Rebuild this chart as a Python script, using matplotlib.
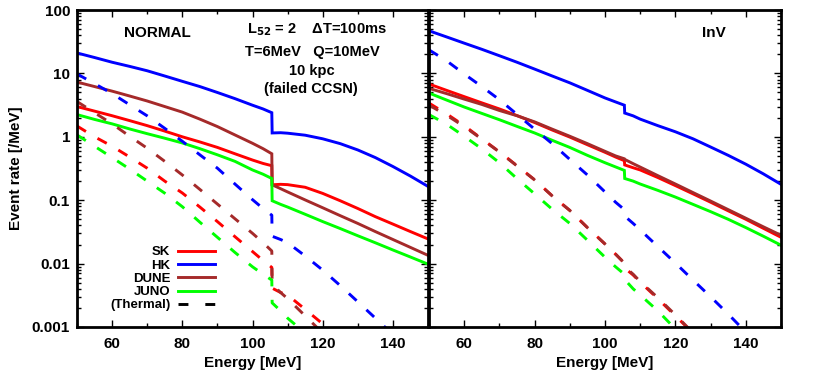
import numpy as np
import matplotlib
matplotlib.use('Agg')
import matplotlib.pyplot as plt
from matplotlib.lines import Line2D
from matplotlib.ticker import LogLocator, MultipleLocator, NullFormatter

plt.rcParams['font.family'] = ['Liberation Sans', 'DejaVu Sans']
plt.rcParams['font.weight'] = 'bold'

# energy grid, split at the jump near 105.6 MeV
E_lo = [50, 55, 60, 65, 70, 75, 80, 85, 90, 95, 100, 103, 105.5]
E_hi = [105.6, 108, 110, 115, 120, 125, 130, 135, 140, 145, 150]

# NORMAL, event rate [/MeV]
sk_n = [3.0, 2.54, 2.15, 1.8, 1.5, 1.23, 1.0, 0.83, 0.68, 0.54, 0.43, 0.38, 0.35] + \
       [0.175, 0.178, 0.176, 0.16, 0.128, 0.098, 0.074, 0.055, 0.042, 0.032, 0.0245]
hk_n = [21, 17.8, 15, 12.9, 11, 9.1, 7.5, 6.2, 5.0, 4.0, 3.15, 2.75, 2.4] + \
       [1.15, 1.16, 1.14, 1.06, 0.93, 0.78, 0.62, 0.47, 0.34, 0.24, 0.165]
dune_n = [7.3, 6.2, 5.25, 4.4, 3.67, 3.0, 2.45, 1.9, 1.45, 1.07, 0.79, 0.65, 0.54] + \
         [0.175, 0.152, 0.135, 0.101, 0.076, 0.057, 0.043, 0.032, 0.024, 0.018, 0.0135]
juno_n = [2.24, 1.88, 1.6, 1.33, 1.12, 0.95, 0.8, 0.65, 0.52, 0.41, 0.3, 0.257, 0.22] + \
         [0.098, 0.086, 0.078, 0.06, 0.046, 0.0357, 0.0275, 0.0213, 0.0164, 0.0127, 0.0098]
# NORMAL, thermal
sk_n_th = [1.48, 1.0, 0.71, 0.48, 0.32, 0.2, 0.13, 0.078, 0.046, 0.0266, 0.0155, 0.0112, 0.0087] + \
          [0.0041, 0.0035, 0.0032, 0.0019, 0.00112, 0.00063, 0.00035, 0.0002, 0.00011, 0.00006, 0.00003]
hk_n_th = [9.8, 6.9, 4.8, 3.2, 2.14, 1.36, 0.85, 0.52, 0.32, 0.18, 0.102, 0.074, 0.058] + \
          [0.027, 0.024, 0.0214, 0.0132, 0.0079, 0.0045, 0.0025, 0.00138, 0.00076, 0.0004, 0.0002]
dune_n_th = [3.6, 2.4, 1.6, 1.02, 0.66, 0.41, 0.25, 0.148, 0.087, 0.051, 0.030, 0.0214, 0.0158] + \
            [0.0047, 0.0035, 0.0028, 0.0015, 0.0008, 0.00042, 0.00022, 0.00012, 0.00006, 0.00003, 0.000015]
juno_n_th = [1.07, 0.71, 0.47, 0.31, 0.2, 0.129, 0.079, 0.045, 0.026, 0.015, 0.0089, 0.0068, 0.0055] + \
            [0.0024, 0.0018, 0.00138, 0.0008, 0.00045, 0.00025, 0.00013, 0.00007, 0.00004, 0.00002, 0.00001]

# InV
sk_i = [6.8, 5.4, 4.3, 3.43, 2.75, 2.16, 1.68, 1.28, 0.99, 0.75, 0.57, 0.48, 0.42] + \
       [0.36, 0.325, 0.3, 0.228, 0.17, 0.126, 0.093, 0.068, 0.05, 0.036, 0.026]
hk_i = [47, 37.6, 30, 24, 19, 15, 11.7, 9.1, 7.1, 5.4, 4.1, 3.55, 3.15] + \
       [2.37, 2.14, 1.9, 1.5, 1.2, 0.93, 0.69, 0.51, 0.37, 0.26, 0.178]
dune_i = [5.8, 4.8, 3.93, 3.24, 2.6, 2.15, 1.72, 1.32, 1.02, 0.78, 0.59, 0.5, 0.45] + \
         [0.44, 0.377, 0.333, 0.244, 0.18, 0.132, 0.097, 0.071, 0.052, 0.038, 0.028]
juno_i = [4.9, 3.8, 2.95, 2.34, 1.86, 1.46, 1.15, 0.88, 0.68, 0.51, 0.39, 0.335, 0.295] + \
         [0.22, 0.2, 0.18, 0.143, 0.112, 0.086, 0.066, 0.05, 0.037, 0.027, 0.0195]
# InV, thermal
sk_i_th = [3.4, 2.3, 1.5, 0.93, 0.58, 0.35, 0.21, 0.117, 0.069, 0.037, 0.0204, 0.0141, 0.0102] + \
          [0.0085, 0.0066, 0.0051, 0.0028, 0.0015, 0.0008, 0.00042, 0.00022, 0.00011, 0.000055, 0.000028]
hk_i_th = [23.5, 15.8, 9.8, 6.2, 3.85, 2.26, 1.32, 0.78, 0.44, 0.25, 0.135, 0.093, 0.071] + \
          [0.056, 0.043, 0.034, 0.0186, 0.0102, 0.0055, 0.003, 0.0016, 0.00083, 0.00043, 0.00021]
dune_i_th = [3.16, 2.19, 1.45, 0.92, 0.575, 0.347, 0.209, 0.117, 0.069, 0.037, 0.0204, 0.0141, 0.0102] + \
            [0.0089, 0.0068, 0.0052, 0.0029, 0.00155, 0.00081, 0.00043, 0.00022, 0.00011, 0.000056, 0.000028]
juno_i_th = [2.24, 1.58, 1.02, 0.645, 0.39, 0.219, 0.126, 0.072, 0.043, 0.0234, 0.0126, 0.0089, 0.0068] + \
            [0.0056, 0.004, 0.0032, 0.0018, 0.00093, 0.00049, 0.00025, 0.000126, 0.000063, 0.000032, 0.000016]

E = E_lo + E_hi
colors = {'SK': '#ff0000', 'HK': '#0000ff', 'DUNE': '#a52a2a', 'JUNO': '#00ff00'}
names = ['SK', 'HK', 'DUNE', 'JUNO']
lw = 2.1
dash = (3.6, 4.6)

W, H = 830, 383
fig = plt.figure(figsize=(W/100, H/100), dpi=100)
ax1 = fig.add_axes([77/W, 1-327/H, 351/W, 317/H])
ax2 = fig.add_axes([429/W, 1-327/H, 352/W, 317/H])

panels = [(ax1, [sk_n, hk_n, dune_n, juno_n], [sk_n_th, hk_n_th, dune_n_th, juno_n_th]),
          (ax2, [sk_i, hk_i, dune_i, juno_i], [sk_i_th, hk_i_th, dune_i_th, juno_i_th])]

for ax, sol, th in panels:
    for nm, y in zip(names, sol):
        ax.plot(E, y, color=colors[nm], lw=lw, solid_joinstyle='miter')
    for nm, y in zip(names, th):
        ax.plot(E, y, color=colors[nm], lw=lw, dashes=dash)
    ax.set_yscale('log')
    ax.set_xlim(50, 150)
    ax.set_ylim(0.001, 100)
    ax.xaxis.set_major_locator(MultipleLocator(20))
    ax.xaxis.set_minor_locator(MultipleLocator(10))
    ax.yaxis.set_major_locator(LogLocator(base=10))
    ax.yaxis.set_minor_locator(LogLocator(base=10, subs=np.arange(2, 10)))
    ax.yaxis.set_minor_formatter(NullFormatter())
    ax.tick_params(which='both', direction='in', top=True, right=True, labelsize=11, width=1.0)
    ax.tick_params(which='major', length=5)
    ax.tick_params(which='minor', length=3)
    ax.tick_params(axis='x', pad=7)
    for s in ax.spines.values():
        s.set_linewidth(2.0)
    ax.set_xlabel('Energy [MeV]', fontsize=11, fontweight='bold', labelpad=4)
    ax.set_xticks([60, 80, 100, 120, 140])
    for lab in ax.get_xticklabels():
        lab.set_fontweight('bold')

ax1.set_yticks([0.001, 0.01, 0.1, 1, 10, 100])
ax1.set_yticklabels(['0.001', '0.01', '0.1', '1', '10', '100'], fontweight='bold')
ax1.tick_params(axis='y', pad=5)
ax2.set_yticks([0.001, 0.01, 0.1, 1, 10, 100])
ax2.set_yticklabels([])
ax1.set_ylabel('Event rate [/MeV]', fontsize=11, fontweight='bold', labelpad=6)

ax1.text(0.228, 0.927, 'NORMAL', transform=ax1.transAxes, ha='center', va='center', fontsize=11, fontweight='bold')
ax1.text(0.683, 0.937, 'L$_{\\mathbf{52}}$ = 2    \u0394T=100ms', transform=ax1.transAxes,
         ha='center', va='center', fontsize=10.5, fontweight='bold')
ax1.text(0.672, 0.868, 'T=6MeV   Q=10MeV', transform=ax1.transAxes, ha='center', va='center', fontsize=10.5, fontweight='bold')
ax1.text(0.669, 0.806, '10 kpc', transform=ax1.transAxes, ha='center', va='center', fontsize=10.5, fontweight='bold')
ax1.text(0.666, 0.751, '(failed CCSN)', transform=ax1.transAxes, ha='center', va='center', fontsize=10.5, fontweight='bold')
ax2.text(0.81, 0.927, 'InV', transform=ax2.transAxes, ha='center', va='center', fontsize=11, fontweight='bold')

handles = [Line2D([], [], color=colors[nm], lw=lw) for nm in names]
handles.append(Line2D([], [], color='black', lw=lw, dashes=(3.4, 5.8)))
labels = names + ['(Thermal)']
leg = ax1.legend(handles, labels, loc='lower right', bbox_to_anchor=(0.42, 0.02), frameon=False,
                 markerfirst=False, handlelength=2.8, handletextpad=0.6,
                 labelspacing=0.08, borderpad=0.2, prop={'weight': 'bold', 'size': 9.5})

fig.savefig('out.png', dpi=100)
